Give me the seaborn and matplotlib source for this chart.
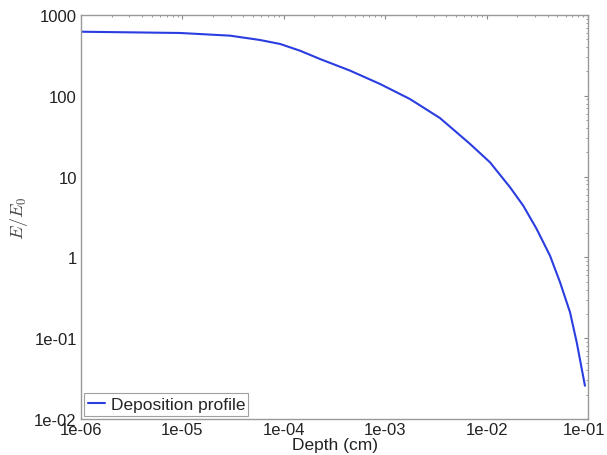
import numpy as np
import pandas as pd
import matplotlib
matplotlib.use("Agg")
import matplotlib.pyplot as plt
import matplotlib.ticker as mticker
import matplotlib.transforms as mtransforms
import seaborn as sns

depth = [1e-6, 9.5e-6, 2.95e-5, 5.8e-5, 9.2e-5, 1.45e-4, 2.28e-4, 4.5e-4, 8.9e-4,
         1.76e-3, 3.47e-3, 6.86e-3, 1.081e-2, 1.702e-2, 2.30e-2, 3.12e-2,
         4.22e-2, 5.30e-2, 6.65e-2, 7.74e-2, 9.33e-2]
energy = [621, 599, 555, 491, 438, 361, 285, 205, 140,
          91, 53, 25.4, 15.0, 7.38, 4.36, 2.24,
          1.05, 0.492, 0.209, 0.0889, 0.0258]
series_name = "Deposition profile"
xticks = [1e-6, 1e-5, 1e-4, 1e-3, 1e-2, 1e-1]
xtick_labels = ["1e-06", "1e-05", "1e-04", "1e-03", "1e-02", "1e-01"]
yticks = [1e-2, 1e-1, 1, 10, 100, 1000]
ytick_labels = ["1e-02", "1e-01", "1", "10", "100", "1000"]

sns.set_theme(style="white")
plt.rcParams['font.family'] = ['Liberation Sans', 'DejaVu Sans']
plt.rcParams['mathtext.fontset'] = 'cm'

df = pd.DataFrame({"depth": depth, "energy": energy, "series": series_name})

fig = plt.figure(figsize=(6.07, 4.56), dpi=100)
ax = fig.add_axes([81/607, 1-420/456, (588-81)/607, (420-16)/456])

sns.lineplot(data=df, x="depth", y="energy", hue="series", palette=["#2a3de0"],
             linewidth=1.5, ax=ax, legend=True)
ax.set_xscale("log")
ax.set_yscale("log")
ax.set_xlim(1e-6, 1e-1)
ax.set_ylim(1e-2, 1000)

ax.set_xticks(xticks)
ax.set_xticklabels(xtick_labels)
ax.set_yticks(yticks)
ax.set_yticklabels(ytick_labels)
ax.xaxis.set_minor_locator(mticker.LogLocator(base=10, subs=np.arange(2, 10)))
ax.yaxis.set_minor_locator(mticker.LogLocator(base=10, subs=np.arange(2, 10)))
ax.xaxis.set_minor_formatter(mticker.NullFormatter())
ax.yaxis.set_minor_formatter(mticker.NullFormatter())

ax.tick_params(which="both", direction="in", top=True, right=True,
               color="#888888", labelsize=12, labelcolor="#222222")
ax.tick_params(which="major", length=3, width=0.8)
ax.tick_params(axis="x", which="major", pad=2)
ax.tick_params(axis="y", which="major", pad=3)
ax.tick_params(which="minor", length=1.5, width=0.6)
for s in ax.spines.values():
    s.set_color("#999999")
    s.set_linewidth(1.0)

# nudge the last x tick label so it stays inside the canvas
last = ax.get_xticklabels()[-1]
last.set_transform(last.get_transform() +
                   mtransforms.ScaledTranslation(-4/100, 0, fig.dpi_scale_trans))

ax.set_xlabel("Depth (cm)", fontsize=12.5, color="#222222")
ax.xaxis.set_label_coords(0.5, -0.045)
ax.set_ylabel("$E/E_0$", fontsize=13, color="#444444")
ax.yaxis.set_label_coords(-0.1, 0.5)

leg = ax.legend(loc="lower left", fontsize=12.5, frameon=True, fancybox=False,
                handlelength=1.0, borderpad=0.2, borderaxespad=0.2,
                handletextpad=0.3)
leg.get_frame().set_edgecolor("#888888")
leg.get_frame().set_linewidth(0.8)

fig.savefig("out.png", dpi=100)
